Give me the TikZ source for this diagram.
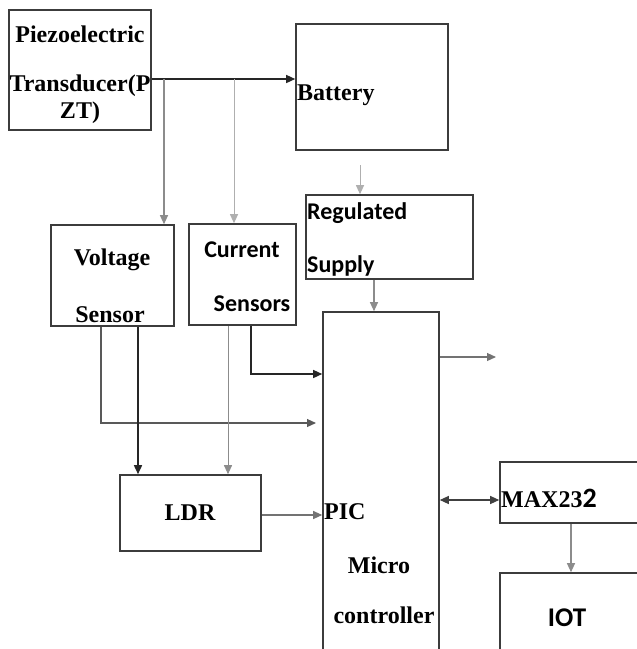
\documentclass[tikz,border=0pt]{standalone}
\usepackage{fontspec}
\setmainfont{Liberation Serif}
\newfontfamily\calib{Carlito}
\usepackage{tikz}
\usetikzlibrary{arrows.meta, positioning}
\definecolor{cinzaBorda}{RGB}{60,60,60}
\definecolor{cinzaLinha}{RGB}{140,140,140}
\definecolor{cinzaClaro}{RGB}{175,175,175}

\begin{document}
\begin{tikzpicture}[x=1pt, y=-1pt,
    blockbox/.style={draw=cinzaBorda, line width=1.6pt, inner sep=0pt},
    lbl/.style={inner sep=0pt, font=\fontsize{24}{26}\selectfont\bfseries},
    clbl/.style={inner sep=0pt, font=\fontsize{24}{26}\selectfont\calib\bfseries},
    arrow/.style={-{Triangle[length=9pt, width=8pt]}},
    darkline/.style={arrow, line width=1.4pt, draw=black!85},
    grayline/.style={arrow, line width=1.1pt, draw=cinzaLinha},
    lightline/.style={arrow, line width=1pt, draw=cinzaClaro}
]
    \clip (0,0) rectangle (637,649);
    \useasboundingbox (0,0) rectangle (637,649);

    \node[blockbox, minimum width=142pt, minimum height=120pt] (piezo) at (80,70) {};
    \node[blockbox, minimum width=152pt, minimum height=126pt] (bat) at (372,87) {};
    \node[blockbox, minimum width=167pt, minimum height=84pt] (reg) at (389.5,237) {};
    \node[blockbox, minimum width=123pt, minimum height=101pt] (volt) at (112.5,275.5) {};
    \node[blockbox, minimum width=107pt, minimum height=101pt] (cur) at (242.5,274.5) {};
    \node[blockbox, minimum width=116pt, minimum height=368pt] (pic) at (381,496) {};
    \node[blockbox, minimum width=141pt, minimum height=76pt] (ldr) at (190.5,513) {};
    \node[blockbox, minimum width=180pt, minimum height=61pt] (max) at (590,492.5) {};
    \node[blockbox, minimum width=180pt, minimum height=127pt] (iot) at (590,636.5) {};

    % textos
    \node[lbl] (piezoA) at (80,34) {Piezoelectric};
    \node[lbl] (piezoB) at (80,86) {Transducer(P};
    \node[lbl] (piezoC) at (80,113) {ZT)};
    \node[lbl, anchor=west] (batT) at (297,95) {Battery};
    \node[clbl, anchor=west] (regA) at (307,213) {Regulated};
    \node[clbl, anchor=west] (regB) at (307,266) {Supply};
    \node[lbl] (voltA) at (112,260) {Voltage};
    \node[lbl] (voltB) at (110,315) {Sensor};
    \node[clbl] (curA) at (242,250) {Current};
    \node[clbl] (curB) at (252,304) {Sensors};
    \node[lbl] (ldrT) at (190,513) {LDR};
    \node[lbl, anchor=west] (picA) at (324,512) {PIC};
    \node[lbl] (picB) at (379,565) {Micro};
    \node[lbl] (picC) at (384,615) {controller};
    \node[lbl, anchor=west] (maxT) at (501,498) {MAX23{\calib\fontsize{28}{30}\selectfont 2}};
    \node[clbl, font=\fontsize{27}{29}\selectfont\calib\bfseries] (iotT) at (567,618) {IOT};

    \coordinate (j1) at (164,79);
    \coordinate (j2) at (234,79);
    \coordinate (b1) at (360,165);
    \coordinate (vpin) at (316,423);
    \coordinate (picout) at (496,357);

    \draw[darkline] ([yshift=-9pt]piezo.east) -- ([yshift=-9pt]piezo.east -| bat.west);
    \draw[grayline] (j1) -- (j1 |- volt.north);
    \draw[lightline] (j2) -- (j2 |- cur.north);
    \draw[lightline] (b1) -- (b1 |- reg.north);
    \draw[grayline] (reg.south -| 374,0) -- (pic.north -| 374,0);
    \draw[arrow, line width=1.2pt, draw=black!65] (volt.south -| 101,0) |- (vpin);
    \draw[darkline, line width=1.6pt] (volt.south -| 138,0) -- (ldr.north -| 138,0);
    \draw[grayline, line width=0.9pt] (cur.south -| 228,0) -- (ldr.north -| 228,0);
    \draw[darkline] (cur.south -| 251,0) |- (pic.west |- 0,374);
    \draw[grayline, draw=black!55] (ldr.east |- 0,515) -- (pic.west |- 0,515);
    \draw[grayline, draw=black!55] (pic.east |- 0,357) -- (picout);
    \draw[{Triangle[length=9pt, width=8pt]}-{Triangle[length=9pt, width=8pt]}, line width=1.2pt, draw=black!75] (pic.east |- 0,500) -- (max.west |- 0,500);
    \draw[grayline] (max.south -| 571,0) -- (iot.north -| 571,0);
\end{tikzpicture}
\end{document}
